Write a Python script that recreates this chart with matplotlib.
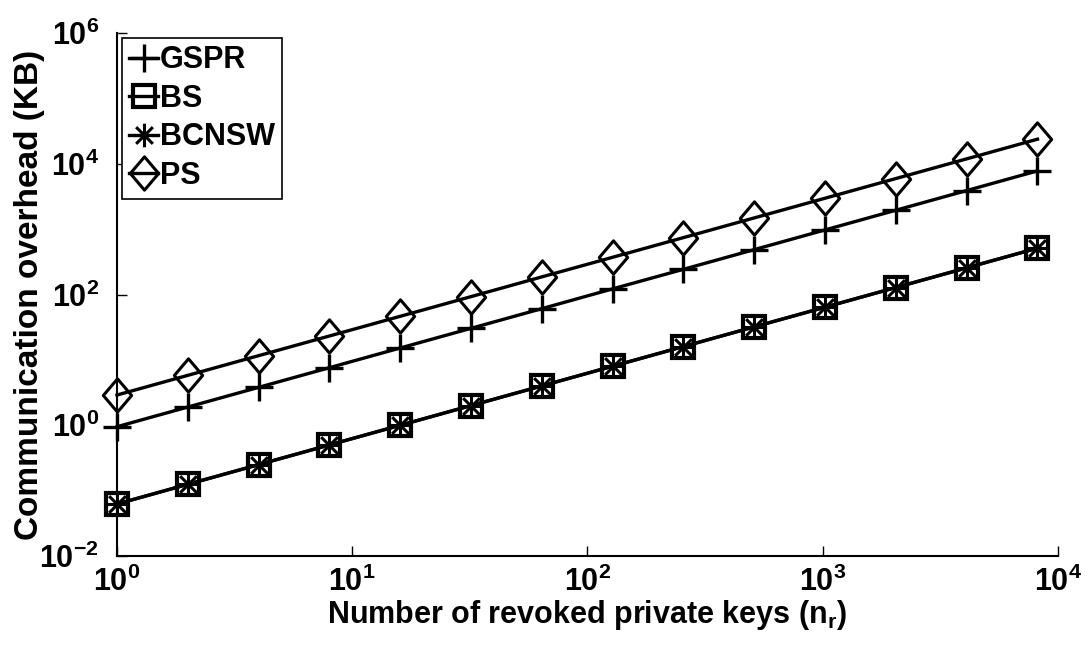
import numpy as np
import matplotlib
matplotlib.use("Agg")
import matplotlib.pyplot as plt
from matplotlib.path import Path
from matplotlib.ticker import FuncFormatter, FixedLocator, NullLocator

plt.rcParams['font.family'] = ['Liberation Sans', 'DejaVu Sans']
plt.rcParams['font.weight'] = 'bold'
plt.rcParams['mathtext.fontset'] = 'custom'
plt.rcParams['mathtext.rm'] = 'Liberation Sans:bold'
plt.rcParams['mathtext.it'] = 'Liberation Sans:bold'
plt.rcParams['mathtext.bf'] = 'Liberation Sans:bold'

# Data
n_revoked = [1, 2, 4, 8, 16, 32, 64, 128, 256, 512, 1024, 2048, 4096, 8192]
gspr = [0.95, 1.9, 3.8, 7.6, 15.2, 30.4, 60.8, 122, 243, 486, 973, 1946, 3891, 7782]
bs = [0.0625, 0.125, 0.25, 0.5, 1, 2, 4, 8, 16, 32, 64, 128, 256, 512]
bcnsw = [0.0625, 0.125, 0.25, 0.5, 1, 2, 4, 8, 16, 32, 64, 128, 256, 512]
ps = [2.9, 5.8, 11.6, 23.2, 46.4, 92.8, 186, 371, 742, 1485, 2970, 5940, 11880, 23760]
labels = ['GSPR', 'BS', 'BCNSW', 'PS']

# custom markers
diamond = Path([(0, 1), (0.85, 0), (0, -1), (-0.85, 0), (0, 1)],
               [Path.MOVETO, Path.LINETO, Path.LINETO, Path.LINETO, Path.CLOSEPOLY])
r = 0.7071
asterisk = Path([(0, -1), (0, 1), (-1, 0), (1, 0), (-r, -r), (r, r), (-r, r), (r, -r)],
                [Path.MOVETO, Path.LINETO] * 4)

fig = plt.figure(figsize=(10.89, 6.47), dpi=100)
ax = fig.add_axes([0.1074, 0.1406, 0.864, 0.8084])

lw = 2.4
ax.plot(n_revoked, gspr, color='black', lw=lw, marker='+', markersize=20,
        markeredgewidth=2.4, label=labels[0], clip_on=False)
ax.plot(n_revoked, bs, color='black', lw=lw, marker='s', markersize=16,
        markeredgewidth=3.0, markerfacecolor='none', label=labels[1], clip_on=False)
ax.plot(n_revoked, bcnsw, color='black', lw=lw, marker=asterisk, markersize=17,
        markeredgewidth=2.2, markerfacecolor='none', label=labels[2], clip_on=False)
ax.plot(n_revoked, ps, color='black', lw=lw, marker=diamond, markersize=24,
        markeredgewidth=2.2, markerfacecolor='none', label=labels[3], clip_on=False)

ax.set_xscale('log')
ax.set_yscale('log')
ax.set_xlim(1, 1e4)
ax.set_ylim(1e-2, 1e6)

ax.xaxis.set_major_locator(FixedLocator([1, 10, 100, 1000, 10000]))
ax.yaxis.set_major_locator(FixedLocator([1e-2, 1, 1e2, 1e4, 1e6]))
ax.xaxis.set_minor_locator(NullLocator())
ax.yaxis.set_minor_locator(NullLocator())
fmt = FuncFormatter(lambda v, p: r'$\mathbf{10^{%d}}$' % int(round(np.log10(v))))
ax.xaxis.set_major_formatter(fmt)
ax.yaxis.set_major_formatter(fmt)
ax.tick_params(direction='in', length=7, width=1, labelsize=22)
ax.tick_params(axis='x', pad=8)
ax.tick_params(axis='y', pad=13)

for s in ['top', 'right']:
    ax.spines[s].set_visible(False)
for s in ['left', 'bottom']:
    ax.spines[s].set_linewidth(1.5)

ax.set_xlabel(r'Number of revoked private keys (n$_r$)', fontsize=22, fontweight='bold', labelpad=0)
ax.set_ylabel('Communication overhead (KB)', fontsize=24, fontweight='bold', labelpad=-4)

leg = ax.legend(loc='upper left', bbox_to_anchor=(0.0, 1.0), borderaxespad=0.15,
                fontsize=22, handlelength=0.95, handletextpad=0.05, labelspacing=0.28,
                borderpad=0.25, fancybox=False, framealpha=1, edgecolor='black',
                markerscale=1.0)
leg.get_frame().set_linewidth(1.2)
for t in leg.get_texts():
    t.set_fontweight('bold')

fig.savefig('out.png', dpi=100)
